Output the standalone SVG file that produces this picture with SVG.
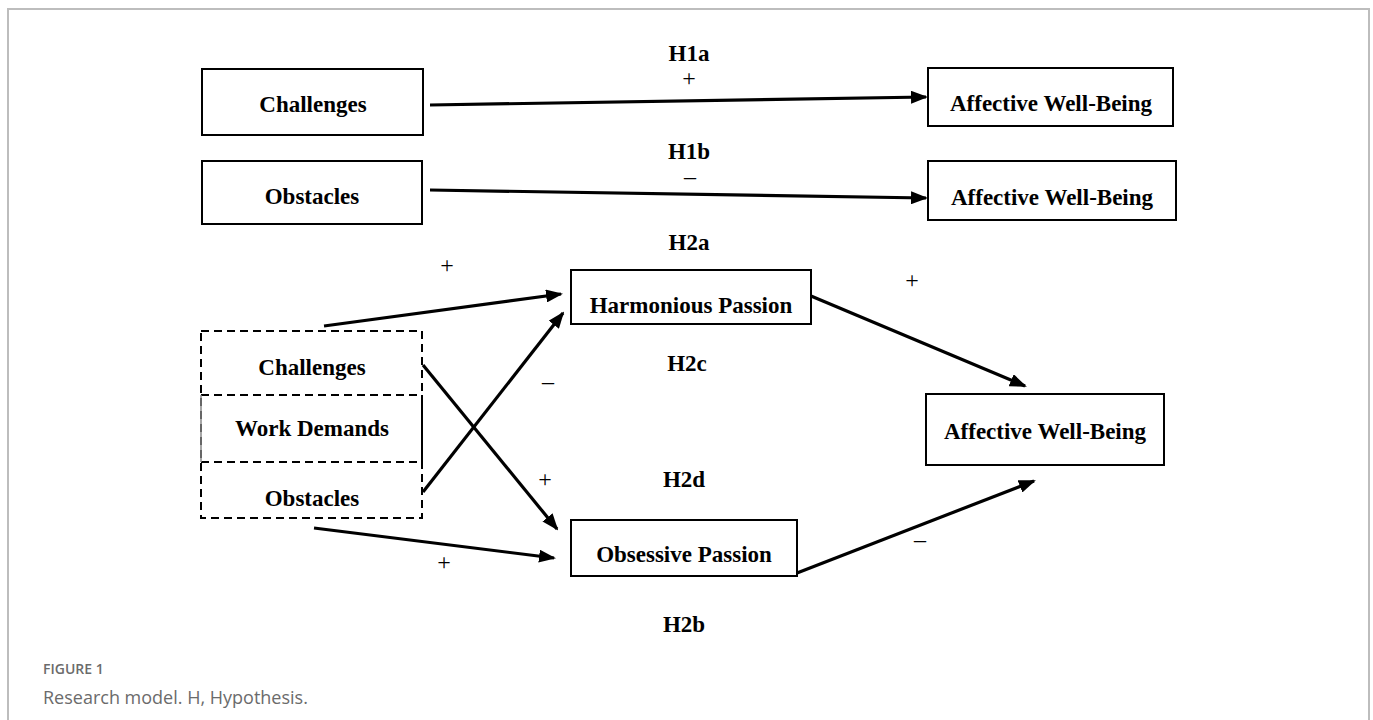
<svg xmlns="http://www.w3.org/2000/svg" width="1373" height="720" viewBox="0 0 1373 720">
  <style>
    .box { fill: #fff; stroke: #000; stroke-width: 2; }
    .lbl { font-family: "Liberation Serif", "Times New Roman", serif; font-weight: bold; font-size: 23px; fill: #000; text-anchor: middle; }
    .sign { font-family: "Liberation Serif", "Times New Roman", serif; font-size: 24px; fill: #000; text-anchor: middle; }
    .conn { stroke: #000; stroke-width: 3.2; fill: none; marker-end: url(#arr); }
    .dash { stroke: #000; stroke-width: 2; fill: none; stroke-dasharray: 8 5; }
    .cap1 { font-family: "Open Sans", "Noto Sans", sans-serif; font-weight: 600; font-size: 14px; fill: #6b6b6b; }
    .cap2 { font-family: "Open Sans", "Noto Sans", sans-serif; font-size: 18px; fill: #6b6b6b; }
  </style>
  <defs>
    <marker id="arr" markerUnits="userSpaceOnUse" markerWidth="17" markerHeight="13" refX="15" refY="6.5" orient="auto">
      <path d="M0,0 L17,6.5 L0,13 Z" fill="#000"/>
    </marker>
  </defs>
  <rect width="1373" height="720" fill="#fff"/>
  <path d="M8,722 L8,9 L1369,9 L1369,722" fill="none" stroke="#bdbdbd" stroke-width="2"/>

  <g id="connectors">
    <line class="conn" x1="430" y1="105" x2="926" y2="97"/>
    <line class="conn" x1="430" y1="190" x2="926" y2="198"/>
    <line class="conn" x1="324" y1="326" x2="561" y2="294"/>
    <line class="conn" x1="423" y1="492" x2="563" y2="313"/>
    <line class="conn" x1="423" y1="365" x2="557" y2="529"/>
    <line class="conn" x1="314" y1="528" x2="554" y2="558"/>
    <line class="conn" x1="811" y1="296" x2="1025" y2="386"/>
    <line class="conn" x1="797" y1="573" x2="1034" y2="481"/>
  </g>

  <g id="node-challenges1">
    <rect class="box" x="202" y="69" width="221" height="66"/>
    <text class="lbl" x="313" y="112">Challenges</text>
  </g>
  <g id="node-obstacles1">
    <rect class="box" x="202" y="161" width="220" height="63"/>
    <text class="lbl" x="312" y="204">Obstacles</text>
  </g>
  <g id="node-awb1">
    <rect class="box" x="928" y="68" width="245" height="58"/>
    <text class="lbl" x="1051" y="111">Affective Well-Being</text>
  </g>
  <g id="node-awb2">
    <rect class="box" x="928" y="161" width="248" height="59"/>
    <text class="lbl" x="1052" y="205">Affective Well-Being</text>
  </g>
  <g id="node-work-demands">
    <rect class="dash" x="201" y="331" width="221" height="187"/>
    <line class="dash" x1="201" y1="395" x2="422" y2="395"/>
    <line class="dash" x1="201" y1="462" x2="422" y2="462"/>
    <line x1="201" y1="395" x2="201" y2="462" stroke="#888" stroke-width="1.5"/>
    <line x1="422" y1="395" x2="422" y2="462" stroke="#000" stroke-width="2"/>
    <text class="lbl" x="312" y="375">Challenges</text>
    <text class="lbl" x="312" y="436">Work Demands</text>
    <text class="lbl" x="312" y="506">Obstacles</text>
  </g>
  <g id="node-harmonious">
    <rect class="box" x="571" y="270" width="240" height="54"/>
    <text class="lbl" x="691" y="313">Harmonious Passion</text>
  </g>
  <g id="node-obsessive">
    <rect class="box" x="571" y="520" width="226" height="56"/>
    <text class="lbl" x="684" y="562">Obsessive Passion</text>
  </g>
  <g id="node-awb3">
    <rect class="box" x="926" y="394" width="238" height="71"/>
    <text class="lbl" x="1045" y="439">Affective Well-Being</text>
  </g>

  <g id="labels">
    <text class="lbl" x="689" y="61">H1a</text>
    <text class="sign" x="689" y="86">+</text>
    <text class="lbl" x="689" y="159">H1b</text>
    <text class="sign" x="690" y="184">–</text>
    <text class="lbl" x="689" y="250">H2a</text>
    <text class="sign" x="447" y="273">+</text>
    <text class="sign" x="912" y="288">+</text>
    <text class="lbl" x="687" y="371">H2c</text>
    <text class="sign" x="548" y="389">–</text>
    <text class="sign" x="545" y="487">+</text>
    <text class="lbl" x="684" y="487">H2d</text>
    <text class="sign" x="920" y="547">–</text>
    <text class="sign" x="444" y="570">+</text>
    <text class="lbl" x="684" y="632">H2b</text>
  </g>

  <g id="caption">
    <text class="cap1" x="43" y="674">FIGURE 1</text>
    <text class="cap2" x="43" y="704">Research model. H, Hypothesis.</text>
  </g>
</svg>
